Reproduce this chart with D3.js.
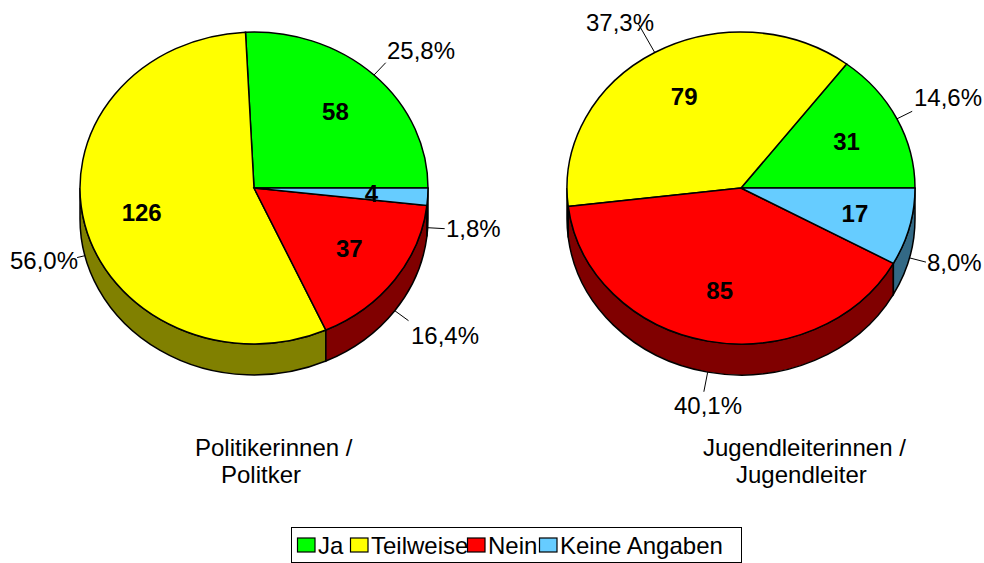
<!DOCTYPE html>
<html>
<head>
<meta charset="utf-8">
<script src="https://cdn.jsdelivr.net/npm/d3@7"></script>
<style>
  html, body { margin: 0; background: #fff; }
  svg { display: block; }
  text { font-family: "Liberation Sans", Arial, sans-serif; fill: #000; }
</style>
</head>
<body>
<svg id="chart" width="984" height="563"></svg>
<script>
const categories = ["Ja", "Teilweise", "Nein", "Keine Angaben"];
const politikerValues = [58, 126, 37, 4];
const jugendleiterValues = [31, 79, 85, 17];
const politikerTitle = ["Politikerinnen /", "Politker"];
const jugendleiterTitle = ["Jugendleiterinnen /", "Jugendleiter"];

const colors = ["#00ff00", "#ffff00", "#ff0000", "#66ccff"];
const wallColors = ["#008000", "#808000", "#800000", "#336985"];

const svg = d3.select("#chart");
const rx = 174, ry = 156, depth = 31;
const fontSize = 24;

// d3.pie: 0 is 12 o'clock, so start at 3 o'clock and run counter clockwise
const pie = d3.pie().sort(null).startAngle(Math.PI / 2).endAngle(Math.PI / 2 - 2 * Math.PI);
const pctFormat = d3.format(".1%");

function drawPie(cx, values, leaders, labelPos, title, titleX) {
    const g = svg.append("g");
    const total = d3.sum(values);
    const slices = pie(values);
    const px = a => cx + rx * Math.sin(a);
    const py = (a, dy = 0) => 188 - ry * Math.cos(a) + dy;

    // Side wall, only the front half of the rim shows
    slices.forEach((s, i) => {
        const hi = Math.min(s.startAngle, -Math.PI / 2);
        const lo = Math.max(s.endAngle, -3 * Math.PI / 2);
        if (hi <= lo) return;
        const large = hi - lo > Math.PI ? 1 : 0;
        g.append("path")
            .attr("d", `M${px(hi)},${py(hi)} A${rx},${ry} 0 ${large} 0 ${px(lo)},${py(lo)}` +
                ` L${px(lo)},${py(lo, depth)} A${rx},${ry} 0 ${large} 1 ${px(hi)},${py(hi, depth)} Z`)
            .attr("fill", wallColors[i])
            .attr("stroke", "#000")
            .attr("stroke-width", 1.5);
    });

    // Top face
    slices.forEach((s, i) => {
        const large = s.startAngle - s.endAngle > Math.PI ? 1 : 0;
        g.append("path")
            .attr("d", `M${cx},188 L${px(s.startAngle)},${py(s.startAngle)}` +
                ` A${rx},${ry} 0 ${large} 0 ${px(s.endAngle)},${py(s.endAngle)} Z`)
            .attr("fill", colors[i])
            .attr("stroke", "#000")
            .attr("stroke-width", 1.5);
    });

    // Counts inside the slices
    slices.forEach(s => {
        const mid = (s.startAngle + s.endAngle) / 2;
        g.append("text")
            .attr("x", cx + 0.67 * rx * Math.sin(mid) + 1)
            .attr("y", 188 - 0.67 * ry * Math.cos(mid) + 8)
            .attr("text-anchor", "middle")
            .attr("font-size", fontSize)
            .attr("font-weight", "bold")
            .text(s.value);
    });

    // Leader lines and percent labels
    slices.forEach((s, i) => {
        const mid = (s.startAngle + s.endAngle) / 2;
        const lower = Math.cos(mid) < 0;
        const x0 = px(mid), y0 = py(mid, lower ? depth : 0);
        g.append("line")
            .attr("x1", x0).attr("y1", y0)
            .attr("x2", x0 + leaders[i] * Math.sin(mid))
            .attr("y2", y0 - leaders[i] * Math.cos(mid))
            .attr("stroke", "#000")
            .attr("stroke-width", 1);
        g.append("text")
            .attr("x", labelPos[i][0])
            .attr("y", labelPos[i][1])
            .attr("font-size", fontSize)
            .text(pctFormat(s.value / total).replace(".", ","));
    });

    title.forEach((line, i) => {
        g.append("text")
            .attr("x", titleX[i])
            .attr("y", 456 + i * 27)
            .attr("font-size", fontSize)
            .text(line);
    });
}

drawPie(254, politikerValues, [17, 8, 17, 17],
    [[387, 59], [10, 269], [411, 344], [446, 237]], politikerTitle, [195, 221]);
drawPie(741, jugendleiterValues, [17, 33, 20, 17],
    [[914, 106], [586, 31], [674, 414], [927, 271]], jugendleiterTitle, [703, 736]);

// Legend
const legend = svg.append("g");
legend.append("rect")
    .attr("x", 291.5).attr("y", 527.5)
    .attr("width", 450).attr("height", 35)
    .attr("fill", "#fff")
    .attr("stroke", "#000")
    .attr("stroke-width", 1);

const legendX = [297, 350, 467, 539];
// Text first: the next swatch sits on top of the long Teilweise label
categories.forEach((c, i) => {
    legend.append("text")
        .attr("x", legendX[i] + 21)
        .attr("y", 554)
        .attr("font-size", fontSize)
        .text(c);
});
categories.forEach((c, i) => {
    legend.append("rect")
        .attr("x", legendX[i] + 0.5).attr("y", 538)
        .attr("width", 17.5).attr("height", 14)
        .attr("fill", colors[i])
        .attr("stroke", "#000")
        .attr("stroke-width", 1.2);
});
</script>
</body>
</html>
